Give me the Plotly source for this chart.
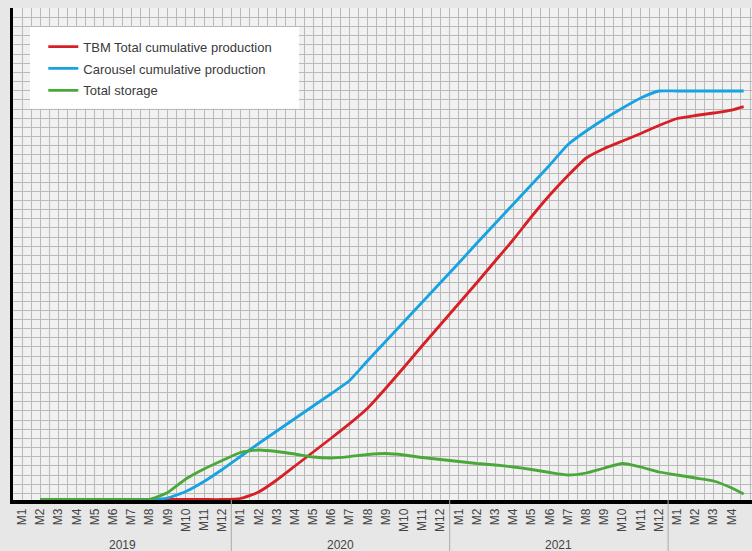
import plotly.graph_objects as go

# month index 0 = 2019 M1 ... 39 = 2022 M4
month_labels = [f"M{m}" for m in range(1, 13)] * 3 + ["M1", "M2", "M3", "M4"]
years = ["2019", "2020", "2021"]

# months 1..39, plus the last partial-month reading
x_months = list(range(1, 40)) + [39.65]

tbm_total = [0, 0, 0, 0, 0, 0, 0, 0, 0, 0, 0, 1,
             7.5, 19.5, 33.5, 47.5, 61.5, 75.8, 91.5, 111.5, 132.5, 154, 175, 196,
             217, 238.5, 260, 283, 304.5, 324, 341.5, 351, 358.5, 366, 374, 381,
             384, 386.5, 389.3, 392.8]
carousel_total = [0, 0, 0, 0, 0, 0, 0, 1.5, 8, 18, 30, 43,
                  56, 68.5, 81, 93.5, 106, 119, 139, 158.5, 178, 197.5, 217, 236.5,
                  256.5, 276, 295.5, 315, 334.5, 355, 368.5, 380.5, 391.5, 401.5, 408.5, 408.5,
                  408.5, 408.5, 408.5, 408.5]
total_storage = [0, 0, 0, 0, 0, 0, 0, 7, 20.5, 30.5, 39, 47,
                 49.5, 48, 45.5, 42.5, 41.5, 43, 45, 46, 44.5, 42, 40, 38,
                 36, 34.5, 32.5, 30, 27, 24.5, 26.5, 31.5, 36, 32.5, 27.5, 24.5,
                 21.5, 18.5, 11.5, 5.5]

series = [
    ("TBM Total cumulative production", tbm_total, "#d71f26"),
    ("Carousel cumulative production", carousel_total, "#17a2e2"),
    ("Total storage", total_storage, "#4aa83a"),
]

fig = go.Figure()
for i, (name, vals, col) in enumerate(series):
    fig.add_trace(go.Scatter(
        x=x_months, y=vals, name=name, mode="lines",
        line=dict(color=col, width=2.8, shape="spline", smoothing=0.5),
        legendgroup=str(i),
    ))

# white legend panel
fig.add_shape(type="rect", xref="paper", yref="paper",
              x0=0.0230, x1=0.3870, y0=0.795, y1=0.9615,
              fillcolor="white", line=dict(width=0), layer="above")

# year separators below the axis
for b in [11.5, 23.5, 35.5]:
    fig.add_shape(type="line", xref="x", yref="paper", x0=b, x1=b, y0=0, y1=-0.11,
                  line=dict(color="#aaaaaa", width=1))

for k, yr in enumerate(years):
    fig.add_annotation(x=5.5 + 12 * k, y=-0.092, xref="x", yref="paper",
                       text=yr, showarrow=False, yanchor="middle",
                       font=dict(size=12, color="#444444"))

grid = "#b9b9b9"
fig.update_xaxes(
    range=[-0.495, 40.11],
    tickmode="array", tickvals=list(range(40)), ticktext=month_labels,
    tickangle=-90, ticks="", tickfont=dict(size=12, color="#444444"),
    showgrid=True, gridcolor=grid, gridwidth=1.4,
    minor=dict(dtick=0.5, tick0=0, showgrid=True, gridcolor=grid, gridwidth=1.4),
    showline=True, linecolor="black", linewidth=3.5, zeroline=False,
)
fig.update_yaxes(
    range=[-0.5, 491.5], showticklabels=False,
    tickmode="linear", tick0=6.2, dtick=9.15, ticks="",
    showgrid=True, gridcolor=grid, gridwidth=1.4,
    showline=True, linecolor="black", linewidth=3, zeroline=False,
)

fig.update_layout(
    width=752, height=551,
    margin=dict(l=13, r=0, t=8, b=51),
    paper_bgcolor="#e7e7e7", plot_bgcolor="#f1f1f1",
    font=dict(family="Liberation Sans, Arial, sans-serif", color="#3a3a3a"),
    legend=dict(x=0.041, y=0.952, xanchor="left", yanchor="top",
                bgcolor="rgba(0,0,0,0)", font=dict(size=13, color="#3a3a3a"),
                traceorder="grouped", tracegroupgap=2),
    showlegend=True,
)

fig.write_html("out.html", config={"displayModeBar": False},
               post_script="document.body.style.margin='0';document.body.style.overflow='hidden';")
